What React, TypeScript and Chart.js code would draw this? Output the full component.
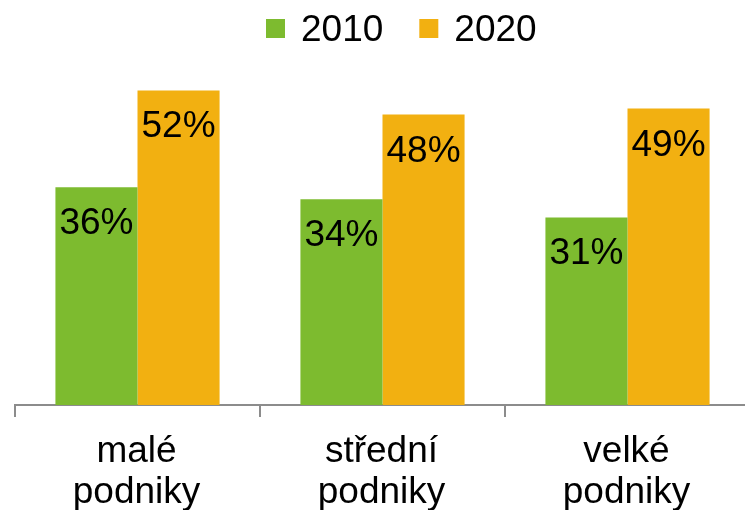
import React, { useEffect, useRef } from "react";
import { Chart, registerables } from "chart.js";

Chart.register(...registerables);

const categories: string[][] = [["malé", "podniky"], ["střední", "podniky"], ["velké", "podniky"]];
const seriesNames = ["2010", "2020"];
const values2010 = [36, 34, 31];
const values2020 = [52, 48, 49];
const colors = ["#7DBB2F", "#F2B011"];

const FONT = "'Liberation Sans', Arial, Helvetica, sans-serif";
const CANVAS_W = 760;
const CANVAS_H = 540;

const valueLabelPlugin = {
  id: "valueLabels",
  afterDatasetsDraw(chart: any) {
    const ctx = chart.ctx;
    ctx.save();
    ctx.font = `37px ${FONT}`;
    ctx.fillStyle = "#000";
    ctx.textAlign = "center";
    ctx.textBaseline = "alphabetic";
    chart.data.datasets.forEach((ds: any, i: number) => {
      const meta = chart.getDatasetMeta(i);
      meta.data.forEach((el: any, j: number) => {
        ctx.fillText(`${ds.data[j]}%`, el.x, el.y + 47);
      });
    });
    ctx.restore();
  },
};

const tickLabelPlugin = {
  id: "tickLabels",
  afterDraw(chart: any) {
    const ctx = chart.ctx;
    const xScale = chart.scales.x;
    const base = chart.chartArea.bottom;
    ctx.save();
    ctx.font = `37px ${FONT}`;
    ctx.fillStyle = "#000";
    ctx.textAlign = "center";
    ctx.textBaseline = "alphabetic";
    (chart.data.labels as string[][]).forEach((lines, i) => {
      const x = xScale.getPixelForTick(i);
      lines.forEach((line, k) => {
        ctx.fillText(line, x - 1, base + 57 + k * 41);
      });
    });
    ctx.restore();
  },
};

const customLegendPlugin = {
  id: "customLegend",
  afterDraw(chart: any) {
    const ctx = chart.ctx;
    ctx.save();
    ctx.font = `37px ${FONT}`;
    ctx.textAlign = "left";
    ctx.textBaseline = "alphabetic";
    let x = 266;
    const boxTop = 19;
    const box = 19;
    chart.data.datasets.forEach((ds: any) => {
      ctx.fillStyle = ds.backgroundColor;
      ctx.fillRect(x, boxTop, box, box);
      ctx.fillStyle = "#000";
      const tx = x + box + 16;
      ctx.fillText(ds.label, tx, 41);
      x = tx + ctx.measureText(ds.label).width + 36;
    });
    ctx.restore();
  },
};

export default function App() {
  const ref = useRef<HTMLCanvasElement | null>(null);
  useEffect(() => {
    if (!ref.current) return;
    const chart = new Chart(ref.current, {
      type: "bar",
      data: {
        labels: categories,
        datasets: [
          { label: seriesNames[0], data: values2010, backgroundColor: colors[0], borderWidth: 0 },
          { label: seriesNames[1], data: values2020, backgroundColor: colors[1], borderWidth: 0 },
        ],
      },
      options: {
        responsive: false,
        animation: false,
        devicePixelRatio: 1,
        layout: { padding: { top: 42, left: 15, right: CANVAS_W - 750, bottom: 0 } },
        plugins: { legend: { display: false }, tooltip: { enabled: false } },
        datasets: { bar: { categoryPercentage: 0.67, barPercentage: 1 } },
        scales: {
          y: { display: false, min: 0, max: 60 },
          x: {
            afterFit: (scale: any) => {
              scale.height = CANVAS_H - 405;
            },
            grid: {
              display: true,
              drawOnChartArea: false,
              drawTicks: true,
              tickLength: 12,
              offset: true,
              color: "#8c8c8c",
              lineWidth: 2,
            },
            border: { display: true, color: "#8c8c8c", width: 2 },
            ticks: {
              color: "rgba(0,0,0,0)",
              font: { family: FONT, size: 37, lineHeight: 1.1 },
              padding: 16,
              maxRotation: 0,
              autoSkip: false,
            },
          },
        },
      },
      plugins: [valueLabelPlugin, tickLabelPlugin, customLegendPlugin],
    });
    return () => chart.destroy();
  }, []);
  return (
    <div style={{ position: "fixed", left: 0, top: 0, width: 745, height: 510, overflow: "hidden", background: "#fff" }}>
      <canvas ref={ref} width={CANVAS_W} height={CANVAS_H} style={{ width: CANVAS_W, height: CANVAS_H, display: "block" }} />
    </div>
  );
}
